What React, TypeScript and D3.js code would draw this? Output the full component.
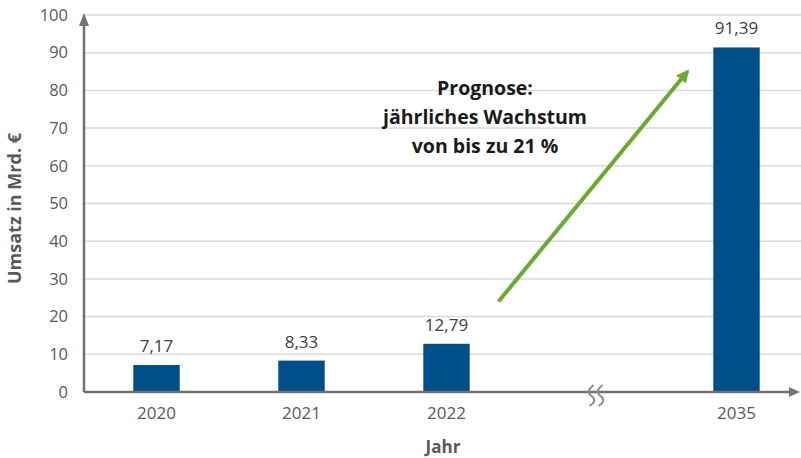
import React from "react";
import * as d3 from "d3";

const categories = ["2020", "2021", "2022", "2035"];
const values = [7.17, 8.33, 12.79, 91.39];
const valueLabels = ["7,17", "8,33", "12,79", "91,39"];
const slots = ["2020", "2021", "2022", "break", "2035"];
const yTicks = [0, 10, 20, 30, 40, 50, 60, 70, 80, 90, 100];
const annotationLines = ["Prognose:", "jährliches Wachstum", "von bis zu 21 %"];
const arrowFrom = { slot: "2022", value: 24 };
const arrowTo = { slot: "break", value: 85 };

const W = 801;
const H = 458;
const left = 84;
const zeroY = 392;
const topY = 15;
const font = "'Open Sans', sans-serif";

export default function App() {
  const x = d3.scaleBand<string>().domain(slots).range([left, left + 725]).paddingInner(0.68).paddingOuter(0.34);
  const y = d3.scaleLinear().domain([0, 100]).range([zeroY, topY]);
  const bw = x.bandwidth();
  const ax1 = x(arrowFrom.slot)! + bw / 2 + 52;
  const ay1 = y(arrowFrom.value);
  const ax2 = x(arrowTo.slot)! + bw / 2 + 96;
  const ay2 = y(arrowTo.value);
  const brk = x("break")! + bw / 2 + 4;
  return (
    <svg width={W} height={H} style={{ position: "absolute", left: 0, top: 0 }}>
      <defs>
        <marker id="ga" viewBox="0 0 10 10" refX="8" refY="5" markerWidth="3.2" markerHeight="3.2" orient="auto">
          <path d="M0,0 L10,5 L0,10 Z" fill="#6aab2e" />
        </marker>
      </defs>
      <rect width={W} height={H} fill="#fff" />
      {yTicks.filter((t) => t > 0).map((t) => (
        <line key={t} x1={left - 2} x2={W} y1={y(t)} y2={y(t)} stroke="#d9d9d9" strokeWidth={1.5} />
      ))}
      {yTicks.map((t) => (
        <text key={t} x={68} y={y(t)} dy="0.35em" textAnchor="end" fontFamily={font} fontSize={16.5} fill="#595959">
          {t}
        </text>
      ))}
      {categories.map((c, i) => (
        <g key={c}>
          <rect x={x(c)} y={y(values[i])} width={bw} height={zeroY - y(values[i])} fill="#004f8b" />
          <text x={x(c)! + bw / 2} y={y(values[i]) - 13} textAnchor="middle" fontFamily={font} fontSize={17} fill="#404040">
            {valueLabels[i]}
          </text>
          <text x={x(c)! + bw / 2} y={419} textAnchor="middle" fontFamily={font} fontSize={17} fill="#595959">
            {c}
          </text>
        </g>
      ))}
      <line x1={left} x2={W - 10} y1={zeroY} y2={zeroY} stroke="#767171" strokeWidth={2.5} />
      <path d={`M${W - 1},${zeroY} L${W - 12},${zeroY - 5} L${W - 12},${zeroY + 5} Z`} fill="#767171" />
      <line x1={left} x2={left} y1={zeroY} y2={25} stroke="#767171" strokeWidth={2.5} />
      <path d={`M${left},13 L${left - 5},26 L${left + 5},26 Z`} fill="#767171" />
      {[-4, 5].map((dx) => (
        <path
          key={dx}
          d={`M${brk + dx + 2},385 C${brk + dx - 4},390 ${brk + dx - 4},393 ${brk + dx},396 C${brk + dx + 4},399 ${brk + dx + 4},402 ${brk + dx - 2},406`}
          fill="none"
          stroke="#8c8c8c"
          strokeWidth={2}
        />
      ))}
      <line x1={ax1} y1={ay1} x2={ax2} y2={ay2} stroke="#6aab2e" strokeWidth={4} markerEnd="url(#ga)" />
      {annotationLines.map((l, i) => (
        <text key={i} x={485} y={95 + i * 29} textAnchor="middle" fontFamily={font} fontSize={19.5} fontWeight={700} fill="#1a1a1a">
          {l}
        </text>
      ))}
      <text transform={`translate(21,${(zeroY + topY) / 2 + 5}) rotate(-90)`} textAnchor="middle" fontFamily={font} fontSize={18} fontWeight={700} fill="#595959">
        Umsatz in Mrd. €
      </text>
      <text x={443} y={453} textAnchor="middle" fontFamily={font} fontSize={17} fontWeight={700} fill="#595959">
        Jahr
      </text>
    </svg>
  );
}
